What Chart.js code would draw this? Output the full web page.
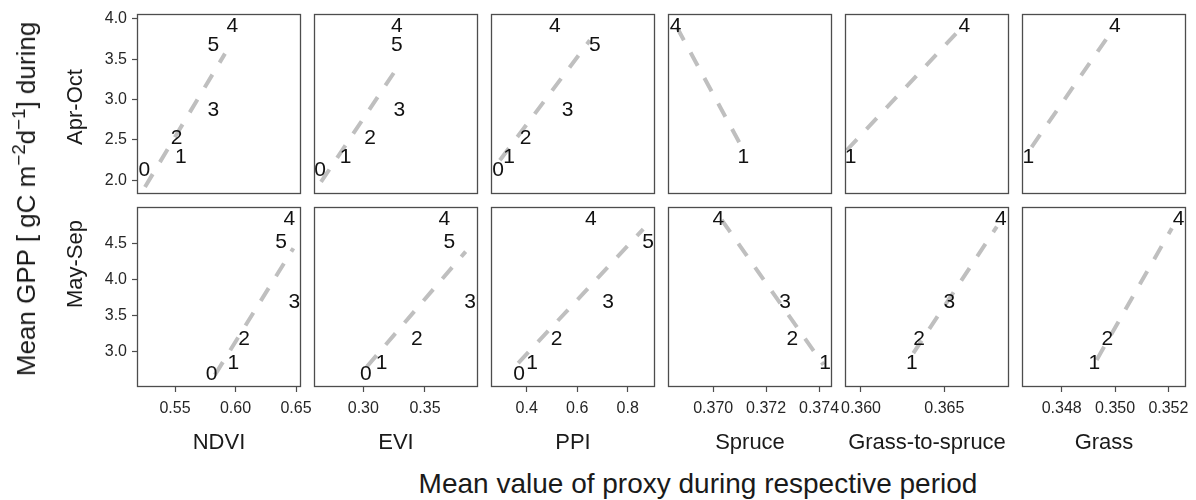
<!DOCTYPE html>
<html>
<head>
<meta charset="utf-8">
<script src="https://cdn.jsdelivr.net/npm/chart.js@4.4.0/dist/chart.umd.min.js"></script>
<style>
  body { margin: 0; background: #fff; font-family: "Liberation Sans", Arial, sans-serif; color: #1a1a1a; }
  #wrap { position: relative; width: 1196px; height: 500px; overflow: hidden; }
  #wrap canvas { position: absolute; }
  .txt { position: absolute; line-height: 1; white-space: nowrap; transform: translate(-50%, -50%); }
  .rot { transform: translate(-50%, -50%) rotate(-90deg); }
  .txt sup { font-size: 0.72em; vertical-align: 0.55em; line-height: 0; }
</style>
</head>
<body>
<div id="wrap"></div>
<script>
const proxies = ['NDVI', 'EVI', 'PPI', 'Spruce', 'Grass-to-spruce', 'Grass'];
const periods = ['Apr-Oct', 'May-Sep'];
const sites = ['0', '1', '2', '3', '4', '5'];

// mean GPP of each site, per period
const gppAprOct = [2.14, 2.31, 2.54, 2.89, 3.93, 3.69];
const gppMaySep = [2.71, 2.86, 3.20, 3.71, 4.85, 4.54];

// mean proxy value of each site (null = site not in that class)
const proxyAprOct = [
  [0.5246, 0.5549, 0.5514, 0.5816, 0.5973, 0.5816],
  [0.2649, 0.2857, 0.3054, 0.3292, 0.3271, 0.3271],
  [0.287, 0.3307, 0.3956, 0.562, 0.5117, 0.670],
  [null, 0.37114, null, null, 0.36858, null],
  [null, 0.35938, null, null, 0.3662, null],
  [null, 0.34675, null, null, 0.34999, null]
];
const proxyMaySep = [
  [0.5803, 0.5981, 0.6070, 0.6485, 0.6444, 0.6376],
  [0.3020, 0.3149, 0.3433, 0.3865, 0.3657, 0.3697],
  [0.3703, 0.4218, 0.5184, 0.7227, 0.6542, 0.8812],
  [null, 0.37423, 0.37299, 0.37272, 0.37019, null],
  [null, 0.36305, 0.36348, 0.3653, 0.36839, null],
  [null, 0.34922, 0.34971, null, 0.35238, null]
];

// ends of the dashed fit lines
const fitXAprOct = [[0.5252, 0.5913], [0.2657, 0.3297], [0.2938, 0.650], [0.36862, 0.37108], [0.35914, 0.3657], [0.34687, 0.34994]];
const fitYAprOct = [[1.917, 3.569], [1.979, 3.445], [2.248, 3.734], [3.898, 2.412], [2.372, 3.817], [2.412, 3.879]];
const fitXMaySep = [[0.5830, 0.6478], [0.3028, 0.3830], [0.3663, 0.8614], [0.37032, 0.37417], [0.36314, 0.36815], [0.34931, 0.35213]];
const fitYMaySep = [[2.678, 4.43], [2.79, 4.383], [2.84, 4.693], [4.822, 2.816], [2.978, 4.729], [2.885, 4.707]];

// axes
const xMin = [0.5186, 0.2600, 0.2586, 0.36829, 0.35904, 0.34651];
const xMax = [0.6541, 0.3930, 0.9081, 0.37449, 0.36888, 0.35266];
const xTicks = [[0.55, 0.60, 0.65], [0.30, 0.35], [0.4, 0.6, 0.8], [0.370, 0.372, 0.374], [0.360, 0.365], [0.348, 0.350, 0.352]];
const xDigits = [2, 2, 1, 3, 3, 3];
const yMin = [1.83, 2.51];
const yMax = [4.06, 5.00];
const yTicks = [[2.0, 2.5, 3.0, 3.5, 4.0], [3.0, 3.5, 4.0, 4.5]];

const panelLeft = [137, 314, 491, 668, 845, 1022];
const panelTop = [14, 207];
const panelW = 164, panelH = 180;

const wrap = document.getElementById('wrap');
const FONT = '"Liberation Sans", Arial, sans-serif';

const panelBox = {
  id: 'panelBox',
  afterDatasetsDraw(chart) {
    const a = chart.chartArea, ctx = chart.ctx;
    ctx.save();
    ctx.strokeStyle = '#4d4d4d';
    ctx.lineWidth = 1.3;
    ctx.strokeRect(a.left + 0.5, a.top + 0.5, a.right - a.left - 1, a.bottom - a.top - 1);
    ctx.restore();
  }
};

const siteText = {
  id: 'siteText',
  afterDraw(chart) {
    const ctx = chart.ctx;
    chart.data.datasets.forEach((ds, i) => {
      if (!ds.siteLabels) return;
      const meta = chart.getDatasetMeta(i);
      ctx.save();
      ctx.font = '21px ' + FONT;
      ctx.fillStyle = '#111';
      ctx.textAlign = 'center';
      ctx.textBaseline = 'alphabetic';
      meta.data.forEach((pt, j) => ctx.fillText(ds.siteLabels[j], pt.x, pt.y + 7.5));
      ctx.restore();
    });
  }
};

// keep the panel box where it is: no extra room for tick labels
function noPad(s) {
  s.paddingTop = 0; s.paddingBottom = 0; s.paddingLeft = 0; s.paddingRight = 0;
}

function makePanel(row, col) {
  const hasY = col === 0, hasX = row === 1;
  const padL = hasY ? 0 : 24, padR = 24, padT = 12, padB = 8;
  const xAxisH = 34;
  const left = hasY ? 0 : panelLeft[col] - padL;
  const top = panelTop[row] - padT;
  const width = (hasY ? panelLeft[0] : padL) + panelW + padR;
  const height = padT + panelH + (hasX ? xAxisH : padB);

  const canvas = document.createElement('canvas');
  canvas.width = width;
  canvas.height = height;
  canvas.style.left = left + 'px';
  canvas.style.top = top + 'px';
  canvas.style.width = width + 'px';
  canvas.style.height = height + 'px';
  wrap.appendChild(canvas);

  const xs = row === 0 ? proxyAprOct[col] : proxyMaySep[col];
  const gpp = row === 0 ? gppAprOct : gppMaySep;
  const pts = [], labels = [];
  xs.forEach((x, s) => {
    if (x === null) return;
    pts.push({ x: x, y: gpp[s] });
    labels.push(sites[s]);
  });
  const fx = row === 0 ? fitXAprOct[col] : fitXMaySep[col];
  const fy = row === 0 ? fitYAprOct[col] : fitYMaySep[col];

  const tickStyle = { font: { size: 16, family: FONT }, color: '#262626' };
  const gridStyle = {
    drawOnChartArea: false, drawTicks: true, tickLength: 5,
    color: '#4d4d4d', tickColor: '#4d4d4d', tickWidth: 1.2
  };

  new Chart(canvas, {
    type: 'scatter',
    data: {
      datasets: [
        {
          data: [{ x: fx[0], y: fy[0] }, { x: fx[1], y: fy[1] }],
          showLine: true,
          borderColor: '#bfbfbf',
          borderWidth: 4,
          borderDash: [15, 14],
          pointRadius: 0,
          clip: false
        },
        {
          data: pts,
          siteLabels: labels,
          pointRadius: 0,
          showLine: false,
          clip: false
        }
      ]
    },
    options: {
      responsive: false,
      animation: false,
      devicePixelRatio: 1,
      layout: { padding: { left: padL, right: padR, top: padT, bottom: hasX ? 0 : padB } },
      plugins: { legend: { display: false }, tooltip: { enabled: false } },
      scales: {
        x: {
          type: 'linear',
          position: 'bottom',
          display: hasX,
          min: xMin[col],
          max: xMax[col],
          afterBuildTicks: (s) => { s.ticks = xTicks[col].map(v => ({ value: v })); },
          afterFit: (s) => { if (hasX) s.height = xAxisH; noPad(s); },
          ticks: Object.assign({
            autoSkip: false, maxRotation: 0, minRotation: 0, padding: 7,
            callback: (v) => Number(v).toFixed(xDigits[col])
          }, tickStyle),
          grid: gridStyle,
          border: { display: false }
        },
        y: {
          type: 'linear',
          position: 'left',
          display: hasY,
          min: yMin[row],
          max: yMax[row],
          afterBuildTicks: (s) => { s.ticks = yTicks[row].map(v => ({ value: v })); },
          afterFit: (s) => { if (hasY) s.width = panelLeft[0]; noPad(s); },
          ticks: Object.assign({
            autoSkip: false, padding: 5,
            callback: (v) => Number(v).toFixed(1)
          }, tickStyle),
          grid: gridStyle,
          border: { display: false }
        }
      }
    },
    plugins: [panelBox, siteText]
  });
}

function addText(html, x, y, size, rotate) {
  const d = document.createElement('div');
  d.className = rotate ? 'txt rot' : 'txt';
  d.style.left = x + 'px';
  d.style.top = y + 'px';
  d.style.fontSize = size + 'px';
  d.innerHTML = html;
  wrap.appendChild(d);
}

for (let r = 0; r < periods.length; r++) {
  for (let c = 0; c < proxies.length; c++) makePanel(r, c);
}

proxies.forEach((p, c) => addText(p, panelLeft[c] + panelW / 2, 442, 22, false));
addText('Mean value of proxy during respective period', 698, 484, 28, false);
addText('Mean GPP [ gC m<sup>\u22122</sup>d<sup>\u22121</sup>] during', 26, 199, 26, true);
addText(periods[0], 75, 107, 22, true);
addText(periods[1], 75, 264, 22, true);
</script>
</body>
</html>
